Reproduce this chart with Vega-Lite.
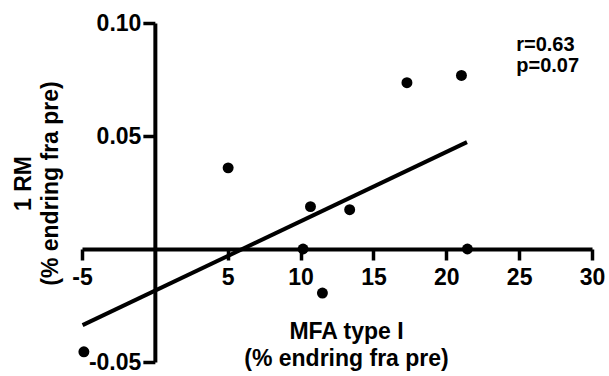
{
  "$schema": "https://vega.github.io/schema/vega-lite/v6.json",
  "width": 510,
  "height": 339,
  "autosize": {"type": "none"},
  "padding": {"left": 82, "top": 23, "right": 17, "bottom": 14},
  "background": "white",
  "config": {"view": {"stroke": null}, "font": "Liberation Sans"},
  "layer": [
    {
      "data": {"values": [
        {"mfa": -4.87, "rm": -0.0455},
        {"mfa": 5.03, "rm": 0.0359},
        {"mfa": 10.68, "rm": 0.01875},
        {"mfa": 13.37, "rm": 0.0174},
        {"mfa": 10.17, "rm": 0.0},
        {"mfa": 11.5, "rm": -0.0195},
        {"mfa": 17.3, "rm": 0.0736},
        {"mfa": 21.04, "rm": 0.0768},
        {"mfa": 21.45, "rm": 0.0}
      ]},
      "mark": {"type": "circle", "size": 120, "color": "black", "opacity": 1},
      "encoding": {
        "x": {
          "field": "mfa", "type": "quantitative",
          "scale": {"domain": [-5, 30], "nice": false, "zero": false},
          "axis": {
            "title": ["MFA type I", "(% endring fra pre)"],
            "values": [-5, 5, 10, 15, 20, 25, 30],
            "labelExpr": "replace(datum.label, '\u2212', '-')",
            "grid": false,
            "offset": {"expr": "scale('y', 0) - height"},
            "domainColor": "black", "domainWidth": 4,
            "tickColor": "black", "tickWidth": 3.5, "tickSize": 11,
            "labelFont": "Liberation Sans", "labelFontWeight": "bold", "labelFontSize": 23, "labelColor": "black",
            "labelPadding": 6, "labelFlush": false, "labelOverlap": false,
            "titleFont": "Liberation Sans", "titleFontWeight": "bold", "titleFontSize": 23, "titleColor": "black",
            "titlePadding": 31, "titleLineHeight": 27, "titleX": 264
          }
        },
        "y": {
          "field": "rm", "type": "quantitative",
          "scale": {"domain": [-0.05, 0.1], "nice": false, "zero": false},
          "axis": {
            "title": ["1 RM", "(% endring fra pre)"],
            "values": [-0.05, 0.05, 0.1],
            "format": ".2f",
            "labelExpr": "replace(datum.label, '\u2212', '-')",
            "grid": false,
            "offset": {"expr": "-scale('x', 0)"},
            "domainColor": "black", "domainWidth": 4,
            "tickColor": "black", "tickWidth": 3.5, "tickSize": 12,
            "labelFont": "Liberation Sans", "labelFontWeight": "bold", "labelFontSize": 23, "labelColor": "black",
            "labelPadding": 2, "labelFlush": false, "labelOverlap": false,
            "titleFont": "Liberation Sans", "titleFontWeight": "bold", "titleFontSize": 23, "titleColor": "black",
            "titlePadding": 26, "titleLineHeight": 27, "titleY": 160
          }
        }
      }
    },
    {
      "data": {"values": [
        {"mfa": -4.96, "rm": -0.0337},
        {"mfa": 21.42, "rm": 0.0473}
      ]},
      "mark": {"type": "line", "color": "black", "strokeWidth": 4},
      "encoding": {
        "x": {"field": "mfa", "type": "quantitative"},
        "y": {"field": "rm", "type": "quantitative"}
      }
    },
    {
      "data": {"values": [
        {"mfa": 24.8, "rm": 0.0875, "label": "r=0.63\np=0.07"}
      ]},
      "mark": {"type": "text", "align": "left", "baseline": "alphabetic", "lineBreak": "\n", "lineHeight": 21, "font": "Liberation Sans", "fontWeight": "bold", "fontSize": 20, "color": "black"},
      "encoding": {
        "x": {"field": "mfa", "type": "quantitative"},
        "y": {"field": "rm", "type": "quantitative"},
        "text": {"field": "label"}
      }
    }
  ]
}
